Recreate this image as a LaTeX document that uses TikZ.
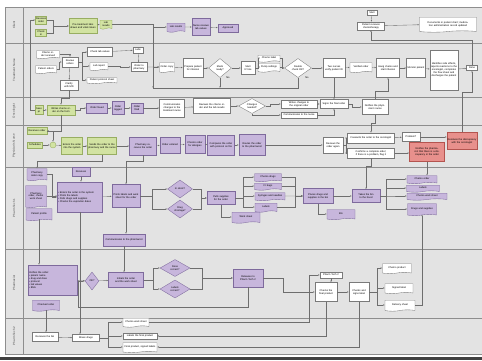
\documentclass[tikz,border=0pt]{standalone}
\usepackage{fontspec}
\setmainfont{Liberation Sans}
\usetikzlibrary{shapes.geometric,shapes.symbols,arrows.meta}
\definecolor{lanebg}{HTML}{E3E3E3}
\definecolor{laneln}{HTML}{8E8E8E}
\definecolor{boxln}{HTML}{7A7A7A}
\definecolor{grnf}{HTML}{D2E3A2}
\definecolor{grnd}{HTML}{98AE62}
\definecolor{prpf}{HTML}{C7B6DC}
\definecolor{prpd}{HTML}{7E6A9C}
\definecolor{redf}{HTML}{E8908C}
\definecolor{redd}{HTML}{B4544F}
\definecolor{wirec}{HTML}{6E6E6E}
\begin{document}
\begin{tikzpicture}[x=1pt,y=-1pt,line width=0.35pt,
  every node/.style={font=\fontsize{2.5}{2.9}\selectfont,inner sep=0.6pt,align=center},
  sz/.code 2 args={\pgfmathsetmacro\boxtw{#1-1.2}\tikzset{minimum width=#1pt,minimum height=#2pt,text width=\boxtw pt}},
  dsz/.style 2 args={minimum width=#1pt,minimum height=#2pt,inner sep=0pt},
  wbox/.style={draw=boxln,fill=white},
  gbox/.style={draw=grnd,fill=grnf},
  pbox/.style={draw=prpd,fill=prpf},
  rbox/.style={draw=redd,fill=redf},
  doc/.style={tape,tape bend top=none,tape bend height=1.4pt},
  dec/.style={diamond,aspect=1.5},
  wire/.style={draw=wirec,-{Latex[length=1.6pt,width=1.3pt]}},
  lanename/.style={rotate=90,font=\fontsize{3}{3.5}\selectfont,text=black!70}]
\useasboundingbox (0,0) rectangle (482,360);
% lanes
\fill[lanebg] (5,7) rectangle (482,354);
\foreach \yy in {7,43,97,125,167,249,318,354}
  \draw[laneln,line width=1pt] (5,\yy) -- (482,\yy);
\draw[laneln,line width=0.8pt] (5,7) -- (5,354) (23,7) -- (23,354);
\fill[black!75] (0,356.5) rectangle (482,360);
\node[lanename] (LC) at (14,25) {Client};
\node[lanename] (LT) at (14,70) {Treatment Nurse};
\node[lanename] (LO) at (14,111) {Oncologist};
\node[lanename] (LP) at (14,146) {Physician's Nurse};
\node[lanename] (L1) at (14,208) {Pharm Tech 1};
\node[lanename] (LM) at (14,283) {Pharmacist};
\node[lanename] (L2) at (14,336) {Pharm Tech 2};
% client
\node[gbox,sz={11}{8}] (C1) at (41,20) {Receives order};
\node[gbox,sz={11}{7}] (C2) at (41,33) {Check in};
\node[gbox,sz={28}{15}] (C3) at (83,26) {Pre-treatment labs drawn and vitals taken};
\node[gbox,doc,sz={12}{9}] (C4) at (106,24) {Lab results};
\node[pbox,doc,sz={18}{9}] (C5) at (176,27) {Lab results};
\node[pbox,sz={18}{17}] (C6) at (201,27) {Nurse reviews lab values};
\node[pbox,sz={20}{8}] (C7) at (228,28) {Approved};
\node[wbox,sz={10}{5}] (C8) at (372,13) {Start};
\node[wbox,sz={27}{8}] (C9) at (371,26) {Patient receives chemotherapy};
\node[wbox,doc,sz={57}{15}] (C10) at (448,24) {Documents in patient chart; medication administration record updated};
% treatment nurse
\node[wbox,doc,sz={23}{8}] (T1) at (48,54) {Chemo order received};
\node[wbox,doc,sz={21}{8}] (T2) at (46,69) {Patient orders};
\node[wbox,sz={16}{10}] (T3) at (70,62) {Review orders};
\node[wbox,sz={25}{9}] (T4) at (100,52) {Check lab values};
\node[wbox,doc,sz={18}{8}] (T5) at (99,66) {Lab report};
\node[wbox,doc,sz={30}{6}] (T6) at (102,80) {Patient protocol sheet};
\node[wbox,sz={18}{10}] (T7) at (69,85) {Clarify with MD};
\node[wbox,sz={10}{6}] (T8) at (138,50) {Labs};
\node[wbox,sz={16}{9}] (T9) at (139,67) {Order to pharmacy};
\node[wbox,doc,sz={15}{10}] (T10) at (167,67) {Order copy};
\node[wbox,sz={20}{19}] (T11) at (193,68) {Prepare patient for infusion};
\node[wbox,dec,dsz={23}{19}] (T12) at (220,68) {Meds\\ready?};
\node[wbox,sz={14}{13}] (T13) at (248,68) {Start IV line};
\node[wbox,doc,sz={22}{7}] (T14) at (269,58) {Chemo label};
\node[wbox,doc,sz={22}{9}] (T15) at (269,67) {Pump settings};
\node[wbox,dec,dsz={27}{19}] (T16) at (298,68) {Double\\check OK?};
\node[wbox,sz={22}{19}] (T17) at (334,68) {Two nurses verify patient ID};
\node[wbox,doc,sz={22}{10}] (T18) at (361,67) {Verified order};
\node[wbox,sz={23}{19}] (T19) at (388,68) {Hang chemo and start infusion};
\node[wbox,sz={19}{19}] (T20) at (416,68) {Monitor patient};
\node[wbox,sz={28}{40}] (T21) at (444,70) {Identifies side effects, reports reactions to the oncologist, completes the flow sheet and discharges the patient};
\node[wbox,sz={11}{5}] (T22) at (472,68) {Done};
\node (TN1) at (228,78) {No};
\node (TN2) at (307,78) {No};
% oncologist
\node[gbox,sz={8}{9}] (O1) at (39,110) {Sees pt};
\node[gbox,sz={28}{10}] (O2) at (61,110) {Writes chemo order on the form};
\node[pbox,sz={21}{10}] (O3) at (97,108) {Order faxed};
\node[pbox,sz={12}{13}] (O4) at (118,108) {Order logged};
\node[pbox,sz={12}{10}] (O5) at (137,108) {Order filed};
\node[wbox,sz={25}{18}] (O6) at (172,108) {Communicates changes to the treatment nurse};
\node[wbox,sz={37}{15}] (O7) at (212,106) {Reviews the chemo order and the lab results};
\node[wbox,dec,dsz={27}{15}] (O8) at (252,106) {Changes\\needed?};
\node[wbox,sz={36}{8}] (O9) at (299,104) {Writes changes to the original order};
\node[wbox,sz={36}{6}] (O10) at (299,115) {Communicates to the nurse};
\node[wbox,sz={28}{9}] (O11) at (334,104) {Signs the final order};
\node[wbox,sz={26}{15}] (O12) at (375,107) {Notifies the physician's nurse};
% physician's nurse
\node[gbox,sz={20}{7}] (P1) at (37,131) {Receives order};
\node[gbox,sz={15}{6}] (P2) at (35,145) {Schedules};
\node[gbox,circle,minimum size=6pt,inner sep=0pt] (P3) at (53,145) {};
\node[gbox,sz={21}{17}] (P4) at (72,146) {Enters the order into the system};
\node[gbox,sz={29}{17}] (P5) at (102,146) {Sends the order to the pharmacy and the nurse};
\node[pbox,sz={27}{18}] (P6) at (143,146) {Pharmacy receives the order};
\node[pbox,sz={20}{16}] (P7) at (170,145) {Order entered};
\node[pbox,sz={20}{18}] (P8) at (195,144) {Checks order for allergies};
\node[pbox,sz={27}{20}] (P9) at (221,145) {Compares the order with protocol on file};
\node[pbox,sz={26}{21}] (P10) at (252,145) {Routes the order to the pharmacist};
\node[wbox,sz={20}{16}] (P11) at (333,145) {Reviews the order again};
\node[wbox,sz={47}{10}] (P12) at (371,138) {Forwards the order to the oncologist};
\node[wbox,sz={47}{10}] (P13) at (371,153) {Confirms a complete order; if there is a problem, flag it};
\node[wbox,sz={18}{9}] (P14) at (411,137) {Problem?};
\node[rbox,sz={35}{19}] (P15) at (427,152) {Notifies the pharmacist that there is a discrepancy in the order};
\node[rbox,sz={30}{17}] (P16) at (462,141) {Resolves the discrepancy with the oncologist};
% pharm tech 1
\node[pbox,doc,sz={20}{12}] (R1) at (37,174) {Pharmacy order copy};
\node[pbox,sz={18}{9}] (R2) at (81,172) {Receives};
\node[pbox,doc,sz={21}{22}] (R3) at (36,196) {Pharmacy order, chemo work sheet};
\node[pbox,doc,sz={26}{12}] (R4) at (39,214) {Patient profile};
\node[pbox,sz={45}{30},align=left] (R5) at (80,197) {\textbullet\ Enters the order in the system\\ \textbullet\ Prints the labels\\ \textbullet\ Pulls drugs and supplies\\ \textbullet\ Checks the expiration dates};
\node[pbox,sz={28}{23}] (R6) at (126,196) {Prints labels and work sheet for the order};
\node[pbox,dec,dsz={25}{18}] (R7) at (180,189) {In stock?};
\node[pbox,dec,dsz={25}{18}] (R8) at (180,209) {Drug\\shortage?};
\node[pbox,sz={28}{13}] (R9) at (221,198) {Pulls supplies for the order};
\node[pbox,doc,sz={27}{8}] (R10) at (268,177) {Chemo drugs};
\node[pbox,doc,sz={27}{7}] (R11) at (268,186) {IV bags};
\node[pbox,doc,sz={30}{8}] (R12) at (270,196) {Syringes and needles};
\node[pbox,doc,sz={22}{9}] (R13) at (266,207) {Labels};
\node[pbox,doc,sz={28}{11}] (R14) at (246,217) {Work sheet};
\node[pbox,sz={30}{15}] (R15) at (318,196) {Places drugs and supplies in the bin};
\node[pbox,sz={28}{13}] (R16) at (366,196) {Takes the bin to the hood};
\node[pbox,doc,sz={30}{8}] (R17) at (422,179) {Chemo order};
\node[pbox,doc,sz={33}{7}] (R18) at (423,188) {Labels};
\node[pbox,doc,sz={40}{7}] (R19) at (427,196) {Chemo work sheet};
\node[pbox,doc,sz={29}{12}] (R20) at (422,209) {Drugs and supplies};
\node[pbox,doc,sz={28}{10}] (R21) at (341,214) {Bin};
\node[pbox,sz={42}{12}] (R22) at (124,240) {Communicates to the pharmacist};
% pharmacist
\node[pbox,sz={49}{30},align=left] (M1) at (53,280) {Verifies the order:\\ \textbullet\ patient name\\ \textbullet\ drug and dose\\ \textbullet\ protocol\\ \textbullet\ lab values\\ \textbullet\ BSA};
\node[pbox,doc,sz={27}{11}] (M2) at (46,305) {Checked order};
\node[pbox,dec,dsz={14}{18}] (M3) at (92,281) {OK?};
\node[pbox,sz={35}{15}] (M4) at (126,280) {Initials the order and the work sheet};
\node[pbox,dec,dsz={30}{17}] (M5) at (175,268) {Dose\\correct?};
\node[pbox,dec,dsz={30}{18}] (M6) at (175,289) {Labels\\correct?};
\node[pbox,sz={30}{18}] (M7) at (248,278) {Releases to Pharm Tech 2};
\node[wbox,sz={22}{6}] (M8) at (331,275) {Pharm Tech 2};
\node[wbox,sz={22}{19}] (M9) at (326,292) {Checks the final product};
\node[wbox,sz={20}{19}] (M10) at (359,292) {Checks and signs label};
\node[wbox,doc,sz={29}{10}] (M11) at (397,268) {Chemo product};
\node[wbox,doc,sz={28}{10}] (M12) at (399,288) {Signed label};
\node[wbox,doc,sz={30}{11}] (M13) at (400,305) {Delivery sheet};
% pharm tech 2
\node[wbox,sz={26}{9}] (N1) at (45,337) {Receives the bin};
\node[wbox,sz={27}{7}] (N2) at (86,338) {Mixes drugs};
\node[wbox,doc,sz={26}{9}] (N3) at (136,322) {Chemo work sheet};
\node[wbox,sz={34}{6}] (N4) at (140,336) {Labels the final product};
\node[wbox,doc,sz={34}{10}] (N5) at (140,347) {Final product, signed labels};
\coordinate (J1) at (371,40);
\coordinate (J2) at (153,88);
\coordinate (K1) at (78,307);
% client wires
\draw[wire] (C1.east) -- ++(6,0) |- (C3.west);
\draw[wire] (C2.east) -- ++(6,0) |- (C3.west);
\draw[wire] (C3) -- (C4);
\draw[wire] (C4.east) -| (J2) ;
\draw[wire] (C4.east) -- ++(41,0) |- (C5.west);
\draw[wire] (C5) -- (C6);
\draw[wire] (C6) -- (C7);
\draw[wire] (C8) -- (C9);
\draw[wire] (C9) -- (C10);
\draw[wire] (T22.north) |- (J1) -- (C9.south);
\draw[wire] (O1.west) -- ++(-5,0) |- (C1.west);
% treatment nurse wires
\draw[wire] (T1.east) -| (T3.north);
\draw[wire] (T2.east) -- ++(2,0) |- (T3.west);
\draw[wire] (T3.east) -- ++(4,0) |- (T4.west);
\draw[wire] (T3.east) ++(4,0) |- (T5.west);
\draw[wire] (T3.east) ++(4,0) |- (T6.west);
\draw[wire] (T3) -- (T7);
\draw[wire] (T4) -- (T8);
\draw[wire] (T8) -- (T9);
\draw[wire] (T5.east) -- ++(12,0) |- (T9.west);
\draw[wire] (T9) -- (T10);
\draw[wire] (T10) -- (T11);
\draw[wire] (T11) -- (T12);
\draw[wire] (T12) -- (T13);
\draw[wire] (T13.east) -- ++(3,0) |- (T14.west);
\draw[wire] (T13.east) -- ++(3,0) |- (T15.west);
\draw[wire] (T14.east) -- ++(2,0) |- (T16.west);
\draw[wire] (T15.east) -- ++(2,0) |- (T16.west);
\draw[wire] (T16) -- (T17);
\draw[wire] (T17) -- (T18);
\draw[wire] (T18) -- (T19);
\draw[wire] (T19) -- (T20);
\draw[wire] (T20) -- (T21);
\draw[wire] (T21) -- (T22);
\draw[wire] (T16.south) |- (J2) |- (T10.west);
\draw[wire] (T12.south) -- (T12.south |- J2);
\draw[wire] (T7.south) -- ++(0,8) -| (O2.north);
\draw[wire] (T17.south) -- (T17.south |- O11.north);
\draw[wire] (O12.north) -- ++(0,-8) -| (T19.south);
\draw[wire] (P16.north) -- ++(0,-40) -| (T22.south);
% oncologist wires
\draw[wire] (O1) -- (O2);
\draw[wire] (O2.east) -- ++(5,0) |- (O3.west);
\draw[wire] (O3) -- (O4);
\draw[wire] (O4) -- (O5);
\draw[wire] (O5) -- (O6);
\draw[wire] (O6) -- (O7);
\draw[wire] (O7) -- (O8);
\draw[wire] (O8.east) -- ++(4,0) |- (O9.west);
\draw[wire] (O8.south) |- (O10.west);
\draw[wire] (O9) -- (O11);
\draw[wire] (O10.east) -| (O11.south);
\draw[wire] (O11.east) -- ++(4,0) |- (O12.west);
\draw[wire] (O2.south) |- (P1.east);
\draw[wire] (O12.south) -- ++(0,8) -| (P12.north);
% physician's nurse wires
\draw[wire] (P1.east) -| (P3.north);
\draw[wire] (P2) -- (P3);
\draw[wire] (P3) -- (P4);
\draw[wire] (P4) -- (P5);
\draw[wire] (P5) -- (P6);
\draw[wire] (P6) -- (P7);
\draw[wire] (P7) -- (P8);
\draw[wire] (P8) -- (P9);
\draw[wire] (P9) -- (P10);
\draw[wire] (P10) -- (P11);
\draw[wire] (P11.east) -- ++(2.5,0) |- (P12.west);
\draw[wire] (P11.east) -- ++(2.5,0) |- (P13.west);
\draw[wire] (P12) -- (P14);
\draw[wire] (P13.east) -- (P15.west |- P13.east);
\draw[wire] (P14.east) -- (P16.west |- P14.east);
\draw[wire] (P5.south) |- ([yshift=7pt]R1.north) -- (R1.north);
\draw[wire] (P6.south) -- ++(0,6) -| (R6.north);
\draw[wire] (P13.south) -- ++(0,8) -| (R16.north);
\draw[wire] (P15.south) -- (P15.south |- R17.north);
% pharm tech 1 wires
\draw[wire] (R2.south) -- (R2.south |- R5.north);
\draw[wire] (R1.east) -- ++(5,0) |- (R5.west);
\draw[wire] (R3.east) -- (R5.west |- R3.east);
\draw[wire] (R5) -- (R6);
\draw[wire] (R6.east) -- ++(12,0) |- (R7.west);
\draw[wire] (R6.east) -- ++(12,0) |- (R8.west);
\draw[wire] (R7.east) -- ++(8,0) |- (R9.west);
\draw[wire] (R8.east) -- ++(8,0) |- (R9.west);
\draw[wire] (R9.east) -- ++(8,0) |- (R10.west);
\draw[wire] (R9.east) -- ++(8,0) |- (R11.west);
\draw[wire] (R9.east) -- ++(8,0) |- (R12.west);
\draw[wire] (R9.east) -- ++(8,0) |- (R13.west);
\draw[wire] (R9.south) |- (R14.west);
\draw[wire] (R10.east) -| ([xshift=-8pt]R15.west) -- (R15.west);
\draw[wire] (R11.east) -| ([xshift=-8pt]R15.west) -- (R15.west);
\draw[wire] (R12) -- (R15);
\draw[wire] (R13.east) -| ([xshift=-8pt]R15.west) -- (R15.west);
\draw[wire] (R15) -- (R16);
\draw[wire] (R15.south) |- (R21.west);
\draw[wire] (R16.east) -- ++(6,0) |- (R17.west);
\draw[wire] (R16.east) -- ++(6,0) |- (R18.west);
\draw[wire] (R16.east) -- ++(6,0) |- (R19.west);
\draw[wire] (R16.east) -- ++(6,0) |- (R20.west);
\draw[wire] (R6.south) -- (R6.south |- R22.north);
\draw[wire] (R22.south) -- (R22.south |- M4.north);
\draw[wire] (R4.south) -- (R4.south |- M1.north);
\draw[wire] (R5.south) -- (R5.south |- N2.north);
% pharmacist wires
\draw[wire] (M1) -- (M3);
\draw[wire] (M3) -- (M4);
\draw[wire] (M4.east) -- ++(9,0) |- (M5.west);
\draw[wire] (M4.east) -- ++(9,0) |- (M6.west);
\draw[wire] (M5.east) -- ++(12,0) |- (M7.west);
\draw[wire] (M6.east) -- ++(12,0) |- (M7.west);
\draw[wire] (M7.south) |- (K1) |- (M3.west);
\draw[wire] (M7.east) -- ++(20,0) |- (M9.west);
\draw[wire] (M8.south) -- (M8.south |- M9.north);
\draw[wire] (M9) -- (M10);
\draw[wire] (M10.east) -- ++(8,0) |- (M11.west);
\draw[wire] (M10.east) -- ++(8,0) |- (M12.west);
\draw[wire] (M10.east) -- ++(8,0) |- (M13.west);
\draw[wire] (M13.east) -| (R20.south);
\draw[wire] (M2.south) -- (M2.south |- N1.north);
% pharm tech 2 wires
\draw[wire] (N1) -- (N2);
\draw[wire] (N2.east) -- ++(8,0) |- (N3.west);
\draw[wire] (N2.east) -- ++(8,0) |- (N4.west);
\draw[wire] (N2.east) -- ++(8,0) |- (N5.west);
\draw[wire] (M9.south) |- (N4.east);
\draw[wire] (M10.south) |- (N5.east);
\draw[wire] (N3.east) -- ++(160,0) |- (M8.west);
\end{tikzpicture}
\end{document}
